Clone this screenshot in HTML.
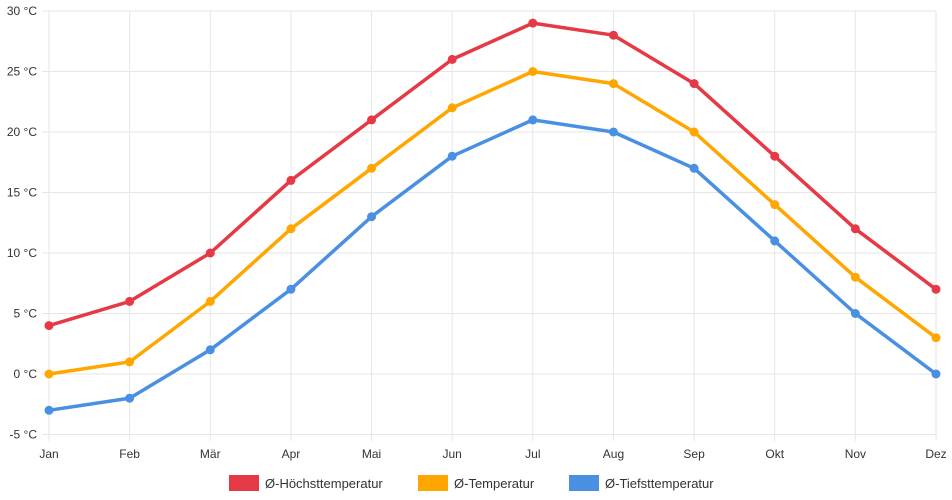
<!DOCTYPE html>
<html><head><meta charset="utf-8"><style>
html,body{margin:0;padding:0;background:#fff;}
svg{display:block;font-family:"Liberation Sans",sans-serif;}
</style></head><body>
<svg id="chart" width="952" height="500" viewBox="0 0 952 500" xmlns="http://www.w3.org/2000/svg">
<g id="grid"></g>
<g id="yaxis"></g>
<g id="xaxis"></g>
<g id="series"></g>
<g id="legend"></g>
</svg>
<script>
const months = ["Jan","Feb","Mär","Apr","Mai","Jun","Jul","Aug","Sep","Okt","Nov","Dez"];
const highTemps = [4,6,10,16,21,26,29,28,24,18,12,7];
const meanTemps = [0,1,6,12,17,22,25,24,20,14,8,3];
const lowTemps = [-3,-2,2,7,13,18,21,20,17,11,5,0];
const yTicks = [-5,0,5,10,15,20,25,30];
const seriesNames = ["Ø-Höchsttemperatur","Ø-Temperatur","Ø-Tiefsttemperatur"];
const seriesColors = ["#e63946","#ffa600","#4a90e2"];

const NS="http://www.w3.org/2000/svg";
const x0=49,x1=936,yMin=-5,yMax=30,yTop=11,yBot=434.5;
const xs=i=>x0+i*(x1-x0)/(months.length-1);
const ys=v=>yBot-(v-yMin)*(yBot-yTop)/(yMax-yMin);
function mk(tag,attrs,parent){const e=document.createElementNS(NS,tag);for(const k in attrs)e.setAttribute(k,attrs[k]);parent.appendChild(e);return e;}
const grid=document.getElementById('grid'),ya=document.getElementById('yaxis'),xa=document.getElementById('xaxis'),sg=document.getElementById('series'),lg=document.getElementById('legend');

yTicks.forEach(v=>{
  const l=mk('line',{x1:42,x2:x1,y1:ys(v),y2:ys(v),stroke:'#e6e6e6','stroke-width':1},grid);
  
  
  const t=mk('text',{x:37,y:ys(v)+4,'text-anchor':'end','font-size':12,fill:'#333'},ya);
  t.textContent=v+' °C';
  
  
});
months.forEach((m,i)=>{
  const l=mk('line',{x1:xs(i),x2:xs(i),y1:yTop,y2:441,stroke:'#e6e6e6','stroke-width':1},grid);
  
  
  const t=mk('text',{x:xs(i),y:458,'text-anchor':'middle','font-size':12,fill:'#333'},xa);
  t.textContent=m;
  
  
});
[highTemps,meanTemps,lowTemps].forEach((data,si)=>{
  const g=mk('g',{},sg);
  
  
  const p=mk('polyline',{points:data.map((v,i)=>xs(i)+','+ys(v)).join(' '),fill:'none',stroke:seriesColors[si],'stroke-width':3.5,'stroke-linejoin':'round'},g);
  
  
  data.forEach((v,i)=>{
    const c=mk('circle',{cx:xs(i),cy:ys(v),r:4.5,fill:seriesColors[si]},g);
    
    
  });
});
const legendX=[229,418,569];
seriesNames.forEach((n,i)=>{
  const g=mk('g',{},lg);
  
  
  mk('rect',{x:legendX[i],y:475,width:30,height:16,fill:seriesColors[i]},g);
  const t=mk('text',{x:legendX[i]+36,y:488,'font-size':13,fill:'#333'},g);
  t.textContent=n;
});
</script>
</body></html>
